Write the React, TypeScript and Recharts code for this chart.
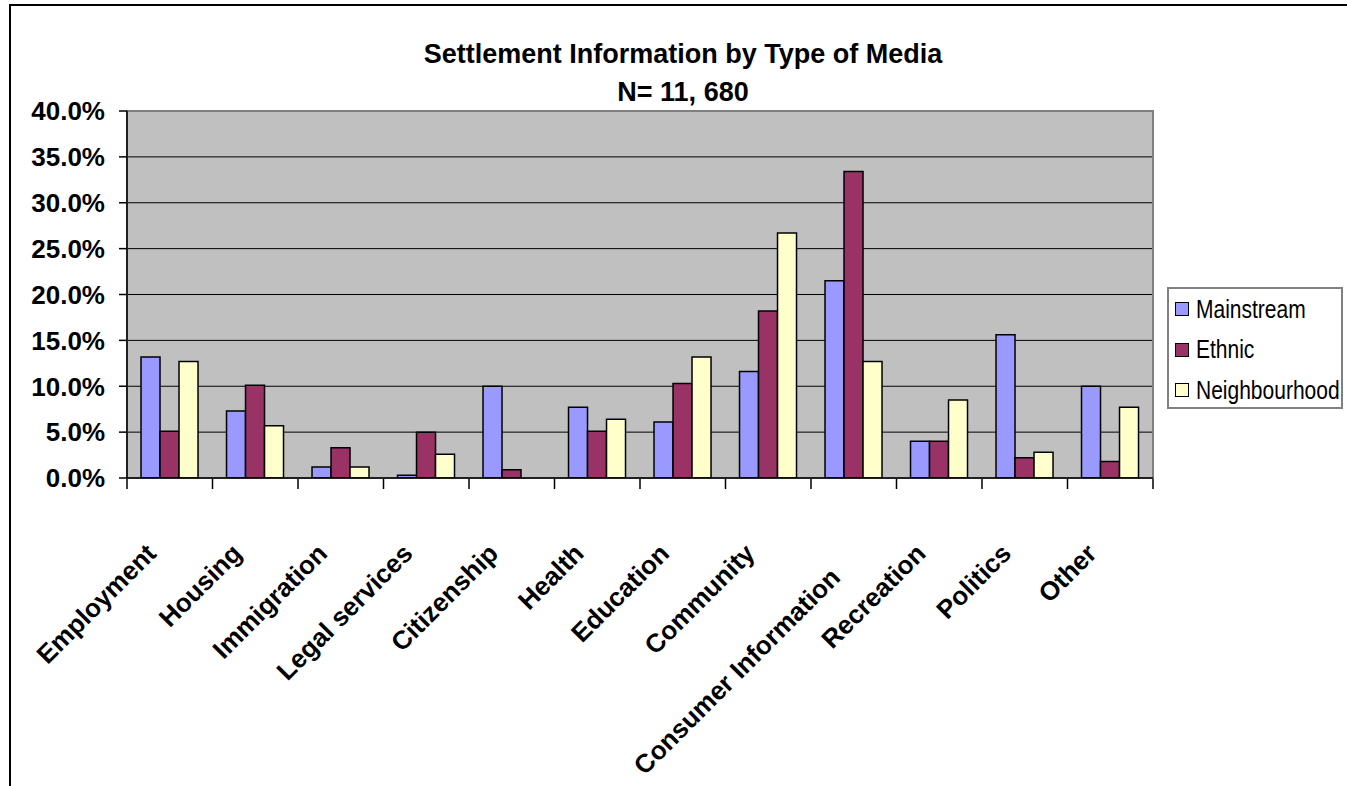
import React from 'react';
import { BarChart, Bar, XAxis, YAxis, CartesianGrid, Legend, ReferenceArea } from 'recharts';

const categories = [
  'Employment', 'Housing', 'Immigration', 'Legal services', 'Citizenship', 'Health',
  'Education', 'Community', 'Consumer Information', 'Recreation', 'Politics', 'Other',
];
const mainstream = [13.2, 7.3, 1.2, 0.3, 10.0, 7.7, 6.1, 11.6, 21.5, 4.0, 15.6, 10.0];
const ethnic = [5.1, 10.1, 3.3, 5.0, 0.9, 5.1, 10.3, 18.2, 33.4, 4.0, 2.2, 1.8];
const neighbourhood = [12.7, 5.7, 1.2, 2.6, 0, 6.4, 13.2, 26.7, 12.7, 8.5, 2.8, 7.7];
const seriesNames = ['Mainstream', 'Ethnic', 'Neighbourhood'];
const seriesColors = ['#9999FF', '#993366', '#FFFFCC'];
const yTicks = [0, 5, 10, 15, 20, 25, 30, 35, 40];
const boundaryTicks = [0, 1, 2, 3, 4, 5, 6, 7, 8, 9, 10, 11, 12];
const titleLine1 = 'Settlement Information by Type of Media';
const titleLine2 = 'N= 11, 680';

const data = categories.map((c, i) => ({
  category: c,
  idx: i + 0.5,
  Mainstream: mainstream[i],
  Ethnic: ethnic[i],
  Neighbourhood: neighbourhood[i],
}));

const FONT = '"Liberation Sans", Arial, sans-serif';

const YTick = (props: any) => {
  const { x, y, payload } = props;
  return (
    <text
      x={x}
      y={y}
      dy="0.36em"
      textAnchor="end"
      fontFamily={FONT}
      fontWeight="bold"
      fontSize={26}
      fill="#000"
    >
      {Number(payload.value).toFixed(1) + '%'}
    </text>
  );
};

const XTick = (props: any) => {
  const { x, y, payload } = props;
  const label = String(payload.value);
  const extra = Math.max(0, label.length - 16) * 6;
  const ax = x - 12;
  const ay = y + 67 + extra;
  return (
    <text
      x={ax}
      y={ay}
      textAnchor="end"
      transform={`rotate(-45 ${ax} ${ay})`}
      fontFamily={FONT}
      fontWeight="bold"
      fontSize={26}
      fill="#000"
    >
      {label}
    </text>
  );
};

const EmptyTick = () => <g />;

const LegendContent = () => (
  <div
    style={{
      width: 176,
      height: 122,
      boxSizing: 'border-box',
      border: '2px solid #808080',
      background: '#fff',
      padding: '0 0 0 6px',
      fontFamily: FONT,
    }}
  >
    {seriesNames.map((name, i) => (
      <div key={name} style={{ display: 'flex', alignItems: 'center', height: 40.5 }}>
        <div
          style={{
            width: 14,
            height: 14,
            flexShrink: 0,
            boxSizing: 'border-box',
            border: '1.5px solid #000',
            background: seriesColors[i],
            marginRight: 7,
          }}
        />
        <span
          style={{
            fontSize: 25,
            display: 'inline-block',
            transform: 'scaleX(0.84)',
            transformOrigin: 'left center',
            whiteSpace: 'nowrap',
            color: '#000',
          }}
        >
          {name}
        </span>
      </div>
    ))}
  </div>
);

export default function App() {
  return (
    <div
      style={{
        position: 'fixed',
        left: 0,
        top: 0,
        width: 1347,
        height: 786,
        overflow: 'hidden',
        background: '#fff',
      }}
    >
      <div
        style={{
          position: 'absolute',
          left: 9,
          top: 4,
          width: 1500,
          height: 1000,
          border: '2px solid #000',
        }}
      />
      <div
        style={{
          position: 'absolute',
          left: 0,
          width: 1366,
          top: 35,
          textAlign: 'center',
          fontFamily: FONT,
          fontWeight: 'bold',
          fontSize: 27,
          lineHeight: '38px',
          color: '#000',
        }}
      >
        <div>{titleLine1}</div>
        <div>{titleLine2}</div>
      </div>
      <div style={{ position: 'absolute', left: 0, top: 0 }}>
        <BarChart
          width={1347}
          height={786}
          data={data}
          margin={{ top: 111, right: 194, bottom: 306, left: 27 }}
          barCategoryGap="16.4%"
          barGap={0}
        >
          <CartesianGrid
            vertical={false}
            fill="#C0C0C0"
            fillOpacity={1}
            stroke="#000"
            strokeWidth={1}
          />
          <ReferenceArea y1={0} y2={40} fill="none" stroke="#808080" strokeWidth={2} ifOverflow="visible" />
          <XAxis
            dataKey="category"
            height={1}
            axisLine={{ stroke: '#000', strokeWidth: 1.5 }}
            tickLine={false}
            tickSize={10}
            tickMargin={0}
            interval={0}
            tick={<XTick />}
          />
          <XAxis
            xAxisId="b"
            type="number"
            dataKey="idx"
            domain={[0, 12]}
            ticks={boundaryTicks}
            allowDataOverflow
            interval={0}
            tick={EmptyTick}
            tickSize={10}
            height={1}
            axisLine={false}
            tickLine={{ stroke: '#000', strokeWidth: 1.5 }}
          />
          <YAxis
            width={100}
            domain={[0, 40]}
            ticks={yTicks}
            allowDataOverflow
            tickSize={8}
            tickMargin={14}
            axisLine={{ stroke: '#000', strokeWidth: 1.5 }}
            tickLine={{ stroke: '#000', strokeWidth: 1.5 }}
            tick={<YTick />}
          />
          <Legend
            layout="vertical"
            align="center"
            verticalAlign="middle"
            wrapperStyle={{ left: 1167, top: 287, width: 176, height: 122 }}
            content={<LegendContent />}
          />
          <Bar dataKey="Mainstream" fill={seriesColors[0]} stroke="#000" strokeWidth={1.5} isAnimationActive={false} />
          <Bar dataKey="Ethnic" fill={seriesColors[1]} stroke="#000" strokeWidth={1.5} isAnimationActive={false} />
          <Bar dataKey="Neighbourhood" fill={seriesColors[2]} stroke="#000" strokeWidth={1.5} isAnimationActive={false} />
        </BarChart>
      </div>
    </div>
  );
}
